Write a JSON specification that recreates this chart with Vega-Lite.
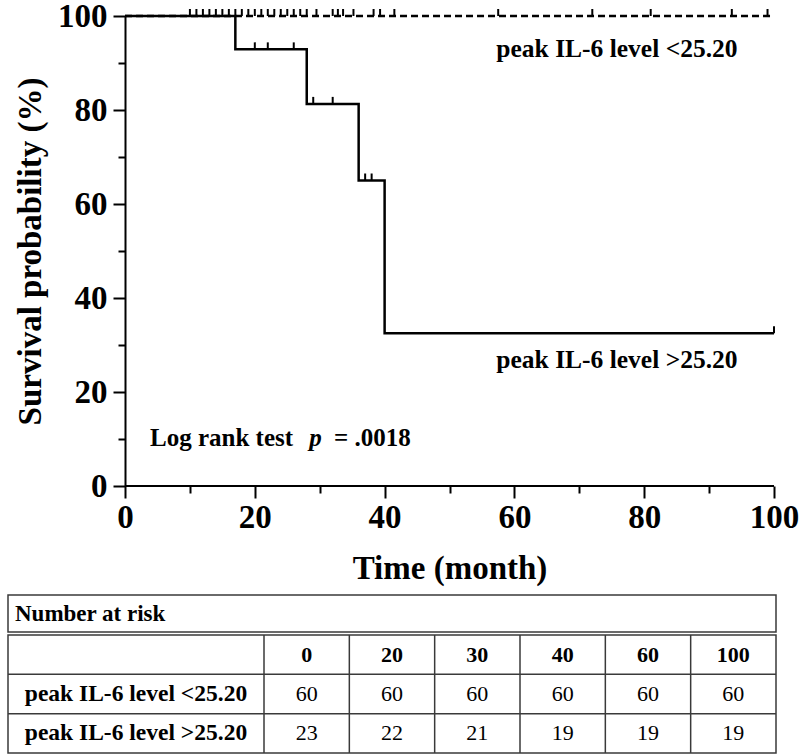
{
  "$schema": "https://vega.github.io/schema/vega-lite/v6.json",
  "padding": {"left": 6, "top": 0, "right": 0, "bottom": 0},
  "background": "white",
  "spacing": 9,
  "config": {
    "view": {"stroke": null},
    "font": "Liberation Serif",
    "axis": {
      "domainColor": "black", "domainWidth": 2, "tickColor": "black", "tickWidth": 2,
      "labelColor": "black", "labelFont": "Liberation Serif", "labelFontSize": 33, "labelFontWeight": "bold",
      "titleColor": "black", "titleFont": "Liberation Serif", "titleFontSize": 33, "titleFontWeight": "bold",
      "grid": false
    },
    "text": {"font": "Liberation Serif", "color": "black"}
  },
  "datasets": {
    "curves": [
      {"group": "peak IL-6 level <25.20", "month": 0, "surv": 100},
      {"group": "peak IL-6 level <25.20", "month": 100, "surv": 100},
      {"group": "peak IL-6 level >25.20", "month": 0, "surv": 100},
      {"group": "peak IL-6 level >25.20", "month": 17, "surv": 92.9},
      {"group": "peak IL-6 level >25.20", "month": 28, "surv": 81.3},
      {"group": "peak IL-6 level >25.20", "month": 36, "surv": 65.0},
      {"group": "peak IL-6 level >25.20", "month": 40, "surv": 32.5},
      {"group": "peak IL-6 level >25.20", "month": 100, "surv": 32.5}
    ],
    "censor": [
      {"group": "peak IL-6 level <25.20", "month": 10, "surv": 100},
      {"group": "peak IL-6 level <25.20", "month": 11, "surv": 100},
      {"group": "peak IL-6 level <25.20", "month": 12, "surv": 100},
      {"group": "peak IL-6 level <25.20", "month": 13, "surv": 100},
      {"group": "peak IL-6 level <25.20", "month": 14, "surv": 100},
      {"group": "peak IL-6 level <25.20", "month": 15, "surv": 100},
      {"group": "peak IL-6 level <25.20", "month": 16, "surv": 100},
      {"group": "peak IL-6 level <25.20", "month": 17, "surv": 100},
      {"group": "peak IL-6 level <25.20", "month": 18, "surv": 100},
      {"group": "peak IL-6 level <25.20", "month": 19, "surv": 100},
      {"group": "peak IL-6 level <25.20", "month": 20, "surv": 100},
      {"group": "peak IL-6 level <25.20", "month": 21, "surv": 100},
      {"group": "peak IL-6 level <25.20", "month": 22, "surv": 100},
      {"group": "peak IL-6 level <25.20", "month": 23, "surv": 100},
      {"group": "peak IL-6 level <25.20", "month": 24, "surv": 100},
      {"group": "peak IL-6 level <25.20", "month": 25, "surv": 100},
      {"group": "peak IL-6 level <25.20", "month": 26, "surv": 100},
      {"group": "peak IL-6 level <25.20", "month": 27, "surv": 100},
      {"group": "peak IL-6 level <25.20", "month": 28, "surv": 100},
      {"group": "peak IL-6 level <25.20", "month": 29.5, "surv": 100},
      {"group": "peak IL-6 level <25.20", "month": 32, "surv": 100},
      {"group": "peak IL-6 level <25.20", "month": 32.8, "surv": 100},
      {"group": "peak IL-6 level <25.20", "month": 33.6, "surv": 100},
      {"group": "peak IL-6 level <25.20", "month": 35.2, "surv": 100},
      {"group": "peak IL-6 level <25.20", "month": 38.3, "surv": 100},
      {"group": "peak IL-6 level <25.20", "month": 39.3, "surv": 100},
      {"group": "peak IL-6 level <25.20", "month": 41.5, "surv": 100},
      {"group": "peak IL-6 level <25.20", "month": 57.5, "surv": 100},
      {"group": "peak IL-6 level <25.20", "month": 72, "surv": 100},
      {"group": "peak IL-6 level <25.20", "month": 81, "surv": 100},
      {"group": "peak IL-6 level <25.20", "month": 93.5, "surv": 100},
      {"group": "peak IL-6 level <25.20", "month": 99, "surv": 100},
      {"group": "peak IL-6 level >25.20", "month": 20, "surv": 92.9},
      {"group": "peak IL-6 level >25.20", "month": 22, "surv": 92.9},
      {"group": "peak IL-6 level >25.20", "month": 26, "surv": 92.9},
      {"group": "peak IL-6 level >25.20", "month": 29, "surv": 81.3},
      {"group": "peak IL-6 level >25.20", "month": 32, "surv": 81.3},
      {"group": "peak IL-6 level >25.20", "month": 37, "surv": 65.0},
      {"group": "peak IL-6 level >25.20", "month": 38, "surv": 65.0},
      {"group": "peak IL-6 level >25.20", "month": 100, "surv": 32.5}
    ],
    "risk": [
      {"row": "times", "col": "0", "text": "0", "kind": "head"},
      {"row": "times", "col": "20", "text": "20", "kind": "head"},
      {"row": "times", "col": "30", "text": "30", "kind": "head"},
      {"row": "times", "col": "40", "text": "40", "kind": "head"},
      {"row": "times", "col": "60", "text": "60", "kind": "head"},
      {"row": "times", "col": "100", "text": "100", "kind": "head"},
      {"row": "peak IL-6 level <25.20", "col": "label", "text": "peak IL-6 level <25.20", "kind": "label"},
      {"row": "peak IL-6 level >25.20", "col": "label", "text": "peak IL-6 level >25.20", "kind": "label"},
      {"row": "peak IL-6 level <25.20", "col": "0", "text": "60", "kind": "n"},
      {"row": "peak IL-6 level <25.20", "col": "20", "text": "60", "kind": "n"},
      {"row": "peak IL-6 level <25.20", "col": "30", "text": "60", "kind": "n"},
      {"row": "peak IL-6 level <25.20", "col": "40", "text": "60", "kind": "n"},
      {"row": "peak IL-6 level <25.20", "col": "60", "text": "60", "kind": "n"},
      {"row": "peak IL-6 level <25.20", "col": "100", "text": "60", "kind": "n"},
      {"row": "peak IL-6 level >25.20", "col": "0", "text": "23", "kind": "n"},
      {"row": "peak IL-6 level >25.20", "col": "20", "text": "22", "kind": "n"},
      {"row": "peak IL-6 level >25.20", "col": "30", "text": "21", "kind": "n"},
      {"row": "peak IL-6 level >25.20", "col": "40", "text": "19", "kind": "n"},
      {"row": "peak IL-6 level >25.20", "col": "60", "text": "19", "kind": "n"},
      {"row": "peak IL-6 level >25.20", "col": "100", "text": "19", "kind": "n"}
    ]
  },
  "vconcat": [
    {
      "width": 769,
      "height": 470,
      "layer": [
        {
          "data": {"name": "curves"},
          "mark": {"type": "line", "interpolate": "step-after", "strokeWidth": 2.5, "color": "black"},
          "encoding": {
            "x": {
              "field": "month", "type": "quantitative",
              "scale": {"domain": [-18.03, 100.46], "nice": false, "zero": false},
              "axis": {
                "title": "Time (month)",
                "titleX": 441.5,
                "titleAlign": "center",
                "domain": false,
                "values": [0, 10, 20, 30, 40, 50, 60, 70, 80, 90, 100],
                "labelExpr": "datum.value % 20 === 0 ? datum.label : ''",
                "tickSize": {"condition": {"test": "datum.value % 20 === 0", "value": 12}, "value": 7},
                "labelPadding": 3,
                "labelFlush": false,
                "titlePadding": 18
              }
            },
            "y": {
              "field": "surv", "type": "quantitative",
              "scale": {"domain": [0, 100], "nice": false},
              "axis": {
                "title": "Survival probability (%)",
                "offset": -117,
                "values": [0, 10, 20, 30, 40, 50, 60, 70, 80, 90, 100],
                "labelExpr": "datum.value % 20 === 0 ? datum.label : ''",
                "tickSize": {"condition": {"test": "datum.value % 20 === 0", "value": 12}, "value": 7},
                "labelPadding": 6,
                "titlePadding": 10
              }
            },
            "strokeDash": {
              "field": "group", "type": "nominal",
              "scale": {"domain": ["peak IL-6 level <25.20", "peak IL-6 level >25.20"], "range": [[7, 4], [1, 0]]},
              "legend": null
            }
          }
        },
        {
          "data": {"values": [{"axis": "x"}]},
          "mark": {"type": "rule", "color": "black", "strokeWidth": 2},
          "encoding": {"x": {"datum": 0}, "x2": {"datum": 100}, "y": {"datum": 0}}
        },
        {
          "data": {"name": "censor"},
          "mark": {"type": "point", "shape": "M0,0L0,-1", "size": 196, "filled": false, "stroke": "black", "strokeWidth": 2, "opacity": 1},
          "encoding": {
            "x": {"field": "month", "type": "quantitative"},
            "y": {"field": "surv", "type": "quantitative"}
          }
        },
        {
          "data": {"values": [{"label": "peak IL-6 level <25.20"}]},
          "mark": {"type": "text", "fontSize": 25.5, "fontWeight": "bold", "align": "center", "baseline": "middle"},
          "encoding": {"text": {"field": "label"}, "x": {"datum": 75.8}, "y": {"datum": 93}}
        },
        {
          "data": {"values": [{"label": "peak IL-6 level >25.20"}]},
          "mark": {"type": "text", "fontSize": 25.5, "fontWeight": "bold", "align": "center", "baseline": "middle"},
          "encoding": {"text": {"field": "label"}, "x": {"datum": 75.8}, "y": {"datum": 26.8}}
        },
        {
          "data": {"values": [{"label": "Log rank test"}]},
          "mark": {"type": "text", "fontSize": 25, "fontWeight": "bold", "align": "left", "baseline": "middle"},
          "encoding": {"text": {"field": "label"}, "x": {"datum": 3.85}, "y": {"datum": 10.2}}
        },
        {
          "data": {"values": [{"label": "p"}]},
          "mark": {"type": "text", "fontSize": 25, "fontWeight": "bold", "fontStyle": "italic", "align": "left", "baseline": "middle"},
          "encoding": {"text": {"field": "label"}, "x": {"datum": 28.4}, "y": {"datum": 10.2}}
        },
        {
          "data": {"values": [{"label": "= .0018"}]},
          "mark": {"type": "text", "fontSize": 25, "fontWeight": "bold", "align": "left", "baseline": "middle"},
          "encoding": {"text": {"field": "label"}, "x": {"datum": 32.2}, "y": {"datum": 10.2}}
        }
      ]
    },
    {
      "spacing": 0,
      "vconcat": [
        {
          "width": 768,
          "height": 37,
          "view": {"stroke": "#3a3a3a", "strokeWidth": 1.5},
          "data": {"values": [{"label": "Number at risk"}]},
          "mark": {"type": "text", "align": "left", "baseline": "middle", "fontSize": 23, "fontWeight": "bold", "dx": 7},
          "encoding": {
            "x": {"field": "label", "type": "nominal", "scale": {"type": "band", "paddingInner": 0, "paddingOuter": 0}, "bandPosition": 0, "axis": null},
            "text": {"field": "label"}
          }
        },
        {
          "width": 768,
          "height": 118,
          "view": {"stroke": "#3a3a3a", "strokeWidth": 1.5},
          "data": {"name": "risk"},
          "encoding": {
            "x": {
              "field": "col", "type": "nominal",
              "scale": {"domain": ["l1", "label", "l2", "0", "20", "30", "40", "60", "100"], "paddingInner": 0, "paddingOuter": 0},
              "axis": null
            },
            "y": {
              "field": "row", "type": "nominal",
              "scale": {"domain": ["times", "peak IL-6 level <25.20", "peak IL-6 level >25.20"], "paddingInner": 0, "paddingOuter": 0},
              "axis": null
            }
          },
          "layer": [
            {
              "transform": [{"filter": "datum.row === 'times'"}],
              "mark": {"type": "rule", "color": "#3a3a3a", "strokeWidth": 1.5},
              "encoding": {
                "x": {"field": "col", "type": "nominal", "bandPosition": 0},
                "y": null
              }
            },
            {
              "transform": [{"filter": "datum.kind === 'label'"}],
              "mark": {"type": "rule", "color": "#3a3a3a", "strokeWidth": 1.5},
              "encoding": {
                "x": null,
                "y": {"field": "row", "type": "nominal", "bandPosition": 0}
              }
            },
            {
              "transform": [{"filter": "datum.kind === 'head'"}],
              "mark": {"type": "text", "fontSize": 22, "fontWeight": "bold"},
              "encoding": {"text": {"field": "text"}}
            },
            {
              "transform": [{"filter": "datum.kind === 'label'"}],
              "mark": {"type": "text", "fontSize": 23.5, "fontWeight": "bold"},
              "encoding": {"text": {"field": "text"}}
            },
            {
              "transform": [{"filter": "datum.kind === 'n'"}],
              "mark": {"type": "text", "fontSize": 22},
              "encoding": {"text": {"field": "text"}}
            }
          ]
        }
      ]
    }
  ]
}
